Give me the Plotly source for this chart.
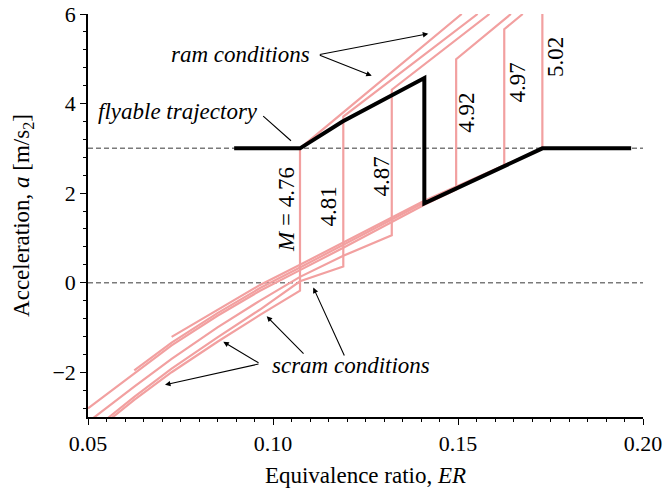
import plotly.graph_objects as go

# Mach numbers of the individual inlet conditions
mach = [4.76, 4.81, 4.87, 4.92, 4.97, 5.02]

# Scram-mode branches: equivalence ratio and acceleration [m/s2]
scram_er = {
    4.76: [0.056, 0.0625, 0.0726, 0.085, 0.0965, 0.1073],
    4.81: [0.055, 0.0625, 0.0726, 0.085, 0.0965, 0.1073, 0.119],
    4.87: [0.051, 0.0625, 0.0726, 0.085, 0.0965, 0.1073, 0.119, 0.1321],
    4.92: [0.050, 0.0625, 0.0726, 0.085, 0.0965, 0.1073, 0.119, 0.1409, 0.1495],
    4.97: [0.0625, 0.0726, 0.085, 0.0965, 0.1073, 0.119, 0.1409, 0.1625],
    5.02: [0.0726, 0.085, 0.0965, 0.1073, 0.119, 0.1409, 0.1728],
}
scram_acc = {
    4.76: [-3.05, -2.62, -2.00, -1.32, -0.72, -0.18],
    4.81: [-3.05, -2.55, -1.92, -1.22, -0.60, 0.03, 0.36],
    4.87: [-3.05, -2.32, -1.70, -1.00, -0.40, 0.13, 0.60, 1.06],
    4.92: [-2.81, -2.02, -1.40, -0.74, -0.18, 0.28, 0.78, 1.74, 2.08],
    4.97: [-1.96, -1.34, -0.68, -0.12, 0.34, 0.84, 1.79, 2.62],
    5.02: [-1.21, -0.60, -0.05, 0.40, 0.90, 1.83, 3.00],
}

# Ram-mode branches (after the mode transition)
ram_er = {
    4.76: [0.1073, 0.1510],
    4.81: [0.119, 0.1553],
    4.87: [0.1321, 0.1585],
    4.92: [0.1495, 0.1643],
    4.97: [0.1625, 0.1675],
    5.02: [0.1728],
}
ram_acc = {
    4.76: [3.00, 6.00],
    4.81: [3.71, 6.00],
    4.87: [4.31, 6.00],
    4.92: [4.99, 6.00],
    4.97: [5.66, 6.00],
    5.02: [6.40],
}

# Flyable trajectory
traj_er = [0.0895, 0.1073, 0.1188, 0.1409, 0.1409, 0.1728, 0.1968]
traj_acc = [3.00, 3.00, 3.60, 4.57, 1.77, 3.00, 3.00]

# Reference levels
ref_levels = [0.0, 3.0]

# Mach labels (text, ER, acceleration)
mach_labels = ["<i>M</i> = 4.76", "4.81", "4.87", "4.92", "4.97", "5.02"]
label_er = [0.1037, 0.1151, 0.1292, 0.1524, 0.1661, 0.1765]
label_acc = [1.64, 1.70, 2.37, 3.79, 4.46, 5.04]

PINK = "#F2A0A0"
FONT = "Liberation Serif, Times New Roman, DejaVu Serif, serif"

fig = go.Figure()

for lv in ref_levels:
    fig.add_trace(go.Scatter(
        x=[0.05, 0.20], y=[lv, lv], mode="lines",
        line=dict(color="#7a7a7a", width=1.5, dash="5px,3px"),
        hoverinfo="skip", showlegend=False))

for m in mach:
    fig.add_trace(go.Scatter(
        x=scram_er[m] + ram_er[m], y=scram_acc[m] + ram_acc[m],
        mode="lines", line=dict(color=PINK, width=2.2),
        name=f"M = {m}", showlegend=False))

fig.add_trace(go.Scatter(
    x=traj_er, y=traj_acc, mode="lines",
    line=dict(color="black", width=4), showlegend=False))

ann = []
for t, xe, ya in zip(mach_labels, label_er, label_acc):
    ann.append(dict(x=xe, y=ya, text=t, textangle=-90, showarrow=False,
                    font=dict(family=FONT, size=23, color="black")))

# Descriptive labels
ann.append(dict(x=0.1105, y=5.09, text="<i>ram conditions</i>", showarrow=False,
                xanchor="right", font=dict(family=FONT, size=23, color="black")))
ann.append(dict(x=0.0965, y=3.82, text="<i>flyable trajectory</i>", showarrow=False,
                xanchor="right", font=dict(family=FONT, size=23, color="black")))
ann.append(dict(x=0.1211, y=-1.85, text="<i>scram conditions</i>", showarrow=False,
                font=dict(family=FONT, size=23, color="black")))

# Pointer lines: (head ER, head acc, tail ER, tail acc, head style)
pointers = [
    (0.14197, 5.56, 0.11224, 5.09, 2),
    (0.12668, 4.62, 0.11224, 5.09, 2),
    (0.10486, 3.17, 0.09695, 3.75, 0),
    (0.07081, -2.28, 0.09649, -1.81, 2),
    (0.08657, -1.32, 0.09649, -1.81, 2),
    (0.09830, -0.75, 0.10865, -1.62, 2),
    (0.11089, -0.11, 0.11946, -1.66, 2),
]
for hx, hy, tx, ty, head in pointers:
    ann.append(dict(x=hx, y=hy, ax=tx, ay=ty, axref="x", ayref="y",
                    xref="x", yref="y", text="", showarrow=True,
                    arrowhead=head, arrowsize=1, arrowwidth=1.1,
                    arrowcolor="black", standoff=0, startstandoff=0))

fig.update_layout(
    width=666, height=495,
    margin=dict(l=88, r=23, t=14, b=78),
    paper_bgcolor="white", plot_bgcolor="white",
    font=dict(family=FONT, size=22, color="black"),
    annotations=ann,
    showlegend=False,
)

fig.update_xaxes(
    range=[0.05, 0.20], tickvals=[0.05, 0.10, 0.15, 0.20],
    ticktext=["0.05", "0.10", "0.15", "0.20"], automargin=False,
    showgrid=False, zeroline=False, showline=True, linecolor="black", linewidth=1.5,
    ticks="outside", ticklen=6, tickwidth=1.2, tickcolor="black",
    minor=dict(ticks="outside", ticklen=3, dtick=0.005, tickcolor="black", tickwidth=1),
    tickfont=dict(family=FONT, size=22),
    title=dict(text="Equivalence ratio, <i>ER</i>", font=dict(family=FONT, size=23), standoff=12),
)
fig.update_yaxes(
    range=[-3, 6], tickvals=[-2, 0, 2, 4, 6], automargin=False,
    showgrid=False, zeroline=False, showline=True, linecolor="black", linewidth=1.5,
    ticks="outside", ticklen=6, tickwidth=1.2, tickcolor="black",
    minor=dict(ticks="outside", ticklen=3, dtick=0.4, tick0=0, tickcolor="black", tickwidth=1),
    tickfont=dict(family=FONT, size=22),
    title=dict(text="Acceleration, <i>a</i> [m/s<sub>2</sub>]", font=dict(family=FONT, size=23), standoff=16),
)

fig.write_html("out.html")
